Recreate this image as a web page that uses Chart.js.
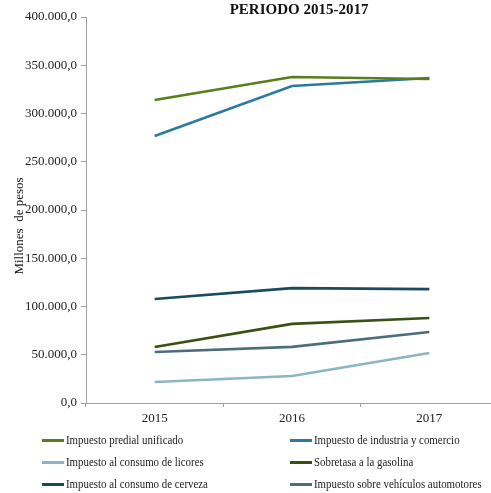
<!DOCTYPE html>
<html>
<head>
<meta charset="utf-8">
<script src="https://cdn.jsdelivr.net/npm/chart.js@4.4.0/dist/chart.umd.min.js"></script>
<style>
    html, body { margin: 0; padding: 0; background: #fff; overflow: hidden; }
    #wrap { position: relative; width: 491px; height: 493px; overflow: hidden; }
    #chart-box { position: absolute; left: 0; top: 0; width: 498px; height: 493px; }
    #legend { position: absolute; left: 0; top: 433px; width: 491px; font-family: "Liberation Serif", serif; font-size: 12.5px; color: #222; }
    .item { position: absolute; display: flex; align-items: center; white-space: nowrap; }
    .swatch { width: 22px; height: 3px; margin-right: 2px; }
    .label { display: inline-block; transform: scaleX(0.87); transform-origin: left center; }
</style>
</head>
<body>
<div id="wrap">
    <div id="chart-box"><canvas id="tax-chart"></canvas></div>
    <div id="legend"></div>
</div>
<script>
// Data (millones de pesos)
const years = ['2015', '2016', '2017'];
const predial = [314000, 337800, 335700];
const industria = [276700, 328500, 336800];
const licores = [21800, 28000, 51800];
const gasolina = [58000, 82000, 88100];
const cerveza = [107800, 119000, 118000];
const vehiculos = [52800, 58200, 73500];

const seriesNames = [
    'Impuesto predial unificado',
    'Impuesto de industria y comercio',
    'Impuesto al consumo de licores',
    'Sobretasa a la gasolina',
    'Impuesto al consumo de cerveza',
    'Impuesto sobre vehículos automotores'
];
const seriesData = [predial, industria, licores, gasolina, cerveza, vehiculos];
const seriesColors = ['#5a7d1b', '#2b7b9c', '#8cb5c3', '#3a5013', '#184b60', '#4c6e7a'];

const serif = '"Liberation Serif", "Times New Roman", serif';

// 400.000,0 style labels
function formatNumber(v) {
    const s = Math.round(v).toString().replace(/\B(?=(\d{3})+(?!\d))/g, '.');
    return s + ',0';
}

// Title and rotated axis label drawn on the canvas
const extraText = {
    id: 'extraText',
    afterDraw(chart) {
        const c = chart.ctx;
        c.save();
        c.fillStyle = '#111';
        c.font = 'bold 15px ' + serif;
        c.textAlign = 'center';
        c.textBaseline = 'middle';
        c.fillText('PERIODO 2015-2017', 299, 10);

        c.font = '13px ' + serif;
        c.translate(20, 226);
        c.rotate(-Math.PI / 2);
        c.fillText('Millones  de pesos', 0, 0);
        c.restore();
    }
};

const chart = new Chart(document.getElementById('tax-chart'), {
    type: 'line',
    data: {
        labels: years,
        datasets: seriesNames.map((name, i) => ({
            label: name,
            data: seriesData[i],
            borderColor: seriesColors[i],
            backgroundColor: seriesColors[i],
            borderWidth: 2.6,
            pointRadius: 0,
            tension: 0
        }))
    },
    options: {
        responsive: true,
        maintainAspectRatio: false,
        animation: false,
        layout: {
            padding: { top: 17, bottom: 60, left: 0, right: 0 }
        },
        plugins: {
            legend: { display: false },
            tooltip: { enabled: false }
        },
        scales: {
            x: {
                offset: true,
                afterFit: scale => { scale.height = 30; },
                border: { color: '#a0a0a0', width: 1 },
                grid: {
                    offset: true,
                    drawOnChartArea: false,
                    tickLength: 4,
                    color: '#a0a0a0'
                },
                ticks: {
                    color: '#222',
                    font: { family: serif, size: 13 },
                    padding: 4
                }
            },
            y: {
                min: 0,
                max: 400000,
                afterFit: scale => { scale.width = 86; },
                border: { color: '#a0a0a0', width: 1 },
                grid: {
                    drawOnChartArea: false,
                    tickLength: 5,
                    color: '#a0a0a0'
                },
                ticks: {
                    stepSize: 50000,
                    color: '#222',
                    font: { family: serif, size: 13 },
                    padding: 4,
                    callback: v => formatNumber(v)
                }
            }
        }
    },
    plugins: [extraText]
});

// Two-column legend built from the chart datasets
const legendEl = document.getElementById('legend');
chart.data.datasets.forEach((ds, i) => {
    const item = document.createElement('div');
    item.className = 'item';
    const col = i % 2;
    const row = Math.floor(i / 2);
    item.style.left = (col === 0 ? 42 : 290) + 'px';
    item.style.top = (row * 22) + 'px';
    const sw = document.createElement('span');
    sw.className = 'swatch';
    sw.style.background = ds.borderColor;
    const tx = document.createElement('span');
    tx.className = 'label';
    tx.textContent = ds.label;
    item.appendChild(sw);
    item.appendChild(tx);
    legendEl.appendChild(item);
});
</script>
</body>
</html>
